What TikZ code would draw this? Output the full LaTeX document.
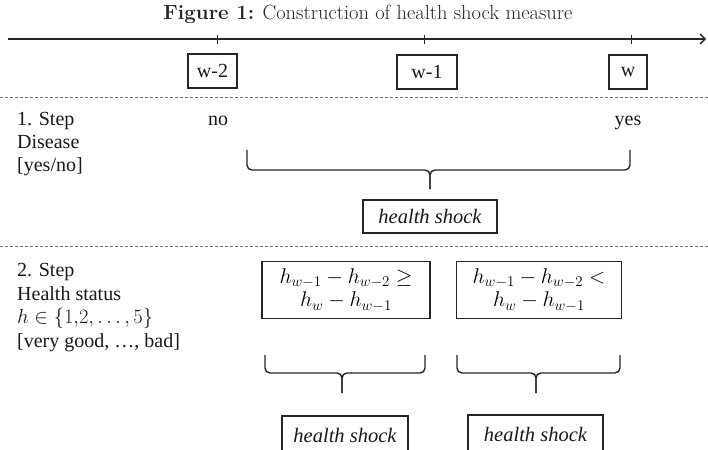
\RequirePackage{fix-cm}
\documentclass[tikz,border=0pt]{standalone}
\usepackage{amsmath}
\usepackage{fontspec}
\newfontfamily\tms{Liberation Serif}
\usetikzlibrary{arrows.meta}
\begin{document}
\begin{tikzpicture}[x=1pt,y=-1pt,
  lab/.style={font=\tms\fontsize{20}{22.6}\selectfont, inner sep=0pt, align=left, text=black!90},
  wbox/.style={draw=black!85, line width=1.4pt, font=\tms\fontsize{20}{22}\selectfont, inner sep=0pt, minimum height=34pt, text=black!90},
  shockbox/.style={draw=black!85, line width=1.4pt, font=\tms\itshape\fontsize{20.5}{22}\selectfont, inner sep=0pt, text=black!90},
  fbox/.style={draw=black!85, line width=1.4pt, inner sep=0pt, align=center, font=\fontsize{21.3}{23.5}\selectfont, text=black},
  sep/.style={black!55, line width=1pt, dash pattern=on 3pt off 2pt},
  brace/.style={black!85, line width=1.4pt, rounded corners=5pt},
  axis/.style={black!85, line width=1.4pt},
  tick/.style={black!85, line width=1pt}
]
\useasboundingbox (0,0) rectangle (708,449);
% title
\node[text=black!85, inner sep=0pt] (title) at (368,14) {\fontsize{20.5}{22}\selectfont\textbf{Figure 1:} Construction of health shock measure};
% time axis
\coordinate (a0) at (8,39);
\coordinate (a1) at (706,39);
\draw[axis, -{Straight Barb[length=5pt,width=10pt]}] (a0) -- (a1);
\foreach \x/\n in {217/t2,424/t1,631/t0}{
  \coordinate (\n) at (\x,39);
  \draw[tick] (\x,35) -- (\x,44);
}
\node[wbox, minimum width=49pt] (w2) at (212.5,71) {w-2};
\node[wbox, minimum width=60pt] (w1) at (427,72) {w-1};
\node[wbox, minimum width=38pt] (w0) at (628,72) {w};
% separators
\coordinate (s1l) at (0,98); \coordinate (s1r) at (708,98);
\coordinate (s2l) at (0,246.5); \coordinate (s2r) at (708,246.5);
\draw[sep] (s1l) -- (s1r);
\draw[sep] (s2l) -- (s2r);
% step 1
\node[lab, anchor=base west] (step1) at (17,171) {1. Step\\Disease\\{[yes/no]}};
\node[lab, anchor=base] (no) at (218,126) {no};
\node[lab, anchor=base] (yes) at (628,126) {yes};
\coordinate (b1l) at (247,150);
\coordinate (b1r) at (630,150);
\coordinate (b1t) at (430,189);
\draw[brace] (b1l) |- (b1t |- 0,170) -- (b1t);
\draw[brace] (b1r) |- (b1t |- 0,170) -- (b1t);
\node[shockbox, minimum width=134pt, minimum height=33pt] (hs1) at (430,216.5) {health shock};
% step 2
\node[lab, anchor=base west, font=\tms\fontsize{20}{23.4}\selectfont] (step2) at (17,347) {2. Step\\Health status\\{\fontsize{20.5}{23.4}\selectfont$h\in\{1{,}2, \ldots, 5\}$}\\{[very good, \ldots, bad]}};
\node[fbox, minimum width=168pt, minimum height=57pt] (fa) at (346,290) {$h_{w-1}-h_{w-2}\geq$\\$h_w-h_{w-1}$};
\node[fbox, minimum width=165pt, minimum height=57pt] (fb) at (539,290) {$h_{w-1}-h_{w-2}<$\\$h_w-h_{w-1}$};
\coordinate (b2l) at (265,355);
\coordinate (b2r) at (425,355);
\coordinate (b2t) at (342,393);
\draw[brace] (b2l) |- (b2t |- 0,373) -- (b2t);
\draw[brace] (b2r) |- (b2t |- 0,373) -- (b2t);
\coordinate (b3l) at (457,355);
\coordinate (b3r) at (620,355);
\coordinate (b3t) at (536,393);
\draw[brace] (b3l) |- (b3t |- 0,373) -- (b3t);
\draw[brace] (b3r) |- (b3t |- 0,373) -- (b3t);
\node[shockbox, minimum width=126pt, minimum height=38pt] (hs2) at (345,435) {health shock};
\node[shockbox, minimum width=135pt, minimum height=38pt] (hs3) at (535.5,434) {health shock};
\end{tikzpicture}
\end{document}
